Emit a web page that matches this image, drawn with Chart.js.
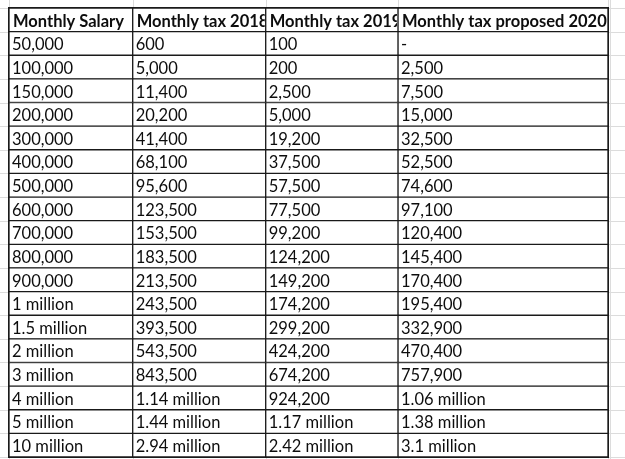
<!DOCTYPE html>
<html>
<head>
<meta charset="utf-8">
<script src="https://cdn.jsdelivr.net/npm/chart.js@4/dist/chart.umd.min.js"></script>
<style>
  html, body { margin: 0; padding: 0; background: #ffffff; }
  #wrap { width: 625px; height: 459px; position: relative; }
</style>
</head>
<body>
<div id="wrap"><canvas id="c" width="625" height="459"></canvas></div>
<script>
// ---- data ----
const headers = ['Monthly Salary', 'Monthly tax 2018', 'Monthly tax 2019', 'Monthly tax proposed 2020'];
const salary = ['50,000','100,000','150,000','200,000','300,000','400,000','500,000','600,000','700,000','800,000','900,000','1 million','1.5 million','2 million','3 million','4 million','5 million','10 million'];
const tax2018 = ['600','5,000','11,400','20,200','41,400','68,100','95,600','123,500','153,500','183,500','213,500','243,500','393,500','543,500','843,500','1.14 million','1.44 million','2.94 million'];
const tax2019 = ['100','200','2,500','5,000','19,200','37,500','57,500','77,500','99,200','124,200','149,200','174,200','299,200','424,200','674,200','924,200','1.17 million','2.42 million'];
const tax2020 = ['-','2,500','7,500','15,000','32,500','52,500','74,600','97,100','120,400','145,400','170,400','195,400','332,900','470,400','757,900','1.06 million','1.38 million','3.1 million'];

// ---- layout (not data) ----
const columnWidths = [123.7, 133, 132.3, 210];
const FONT_FAMILY = 'Lato, "Open Sans", sans-serif';
const BODY_SIZE = 16.5;
const HEAD_SIZE = 16.5;

const columns = [salary, tax2018, tax2019, tax2020];
const rowKeys = ['header'].concat(salary.map((s, i) => 'r' + i));
const cellText = (col, row) => row === 0 ? headers[col] : columns[col][row - 1];

const datasets = columns.map((col, ci) => ({
  label: headers[ci],
  data: rowKeys.map(() => columnWidths[ci]),
  backgroundColor: '#ffffff',
  borderColor: '#1a1a1a',
  borderWidth: 1,
  borderSkipped: false,
  barPercentage: 1,
  categoryPercentage: 1,
  stack: 'table'
}));

const sheetGrid = {
  id: 'sheetGrid',
  beforeDatasetsDraw(chart) {
    const { ctx, scales: { x, y }, width, height } = chart;
    ctx.save();
    ctx.strokeStyle = '#dcdcdc';
    ctx.lineWidth = 1;
    const n = rowKeys.length;
    const step = (y.getPixelForValue(1) - y.getPixelForValue(0));
    for (let i = 0; i <= n; i++) {
      const py = Math.round(y.getPixelForValue(0) - step / 2 + i * step) + 0.5;
      ctx.beginPath(); ctx.moveTo(0, py); ctx.lineTo(width, py); ctx.stroke();
    }
    let acc = 0;
    const xs = [0];
    columnWidths.forEach(w => { acc += w; xs.push(acc); });
    xs.forEach(v => {
      const px = Math.round(x.getPixelForValue(v)) + 0.5;
      ctx.beginPath(); ctx.moveTo(px, 0); ctx.lineTo(px, height); ctx.stroke();
    });
    const px2 = Math.round(x.getPixelForValue(acc)) + 2.5;
    ctx.beginPath(); ctx.moveTo(px2, 0); ctx.lineTo(px2, height); ctx.stroke();
    ctx.restore();
  }
};

const cellText_ = {
  id: 'cellText',
  afterDatasetsDraw(chart) {
    const { ctx, chartArea } = chart;
    ctx.save();
    ctx.strokeStyle = '#1a1a1a';
    ctx.lineWidth = 1;
    ctx.strokeRect(chartArea.left - 0.5, chartArea.top - 0.5,
                   chartArea.right - chartArea.left + 1, chartArea.bottom - chartArea.top + 1);
    chart.data.datasets.forEach((ds, ci) => {
      const meta = chart.getDatasetMeta(ci);
      meta.data.forEach((el, ri) => {
        const p = el.getProps(['x', 'y', 'base', 'height'], true);
        const left = Math.min(p.x, p.base), right = Math.max(p.x, p.base);
        const top = p.y - p.height / 2;
        ctx.save();
        ctx.beginPath();
        ctx.rect(left + 1, top + 1, right - left - 2, p.height - 2);
        ctx.clip();
        const isHead = ri === 0;
        ctx.font = (isHead ? 'bold ' : '') + (isHead ? HEAD_SIZE : BODY_SIZE) + 'px ' + FONT_FAMILY;
        ctx.fillStyle = '#0d0d0d';
        ctx.textBaseline = 'middle';
        ctx.textAlign = 'left';
        ctx.fillText(cellText(ci, ri), left + (isHead ? 4 : 3), p.y + 1.5);
        ctx.restore();
      });
    });
    ctx.restore();
  }
};

new Chart(document.getElementById('c'), {
  type: 'bar',
  data: { labels: rowKeys, datasets },
  options: {
    indexAxis: 'y',
    responsive: false,
    animation: false,
    layout: { padding: { left: 9, right: 17, top: 8, bottom: 2 } },
    plugins: { legend: { display: false }, tooltip: { enabled: false } },
    scales: {
      x: { type: 'linear', stacked: true, display: false, min: 0,
           max: columnWidths.reduce((a, b) => a + b, 0) },
      y: { type: 'category', stacked: true, display: false, offset: true }
    }
  },
  plugins: [sheetGrid, cellText_]
});
</script>
</body>
</html>
